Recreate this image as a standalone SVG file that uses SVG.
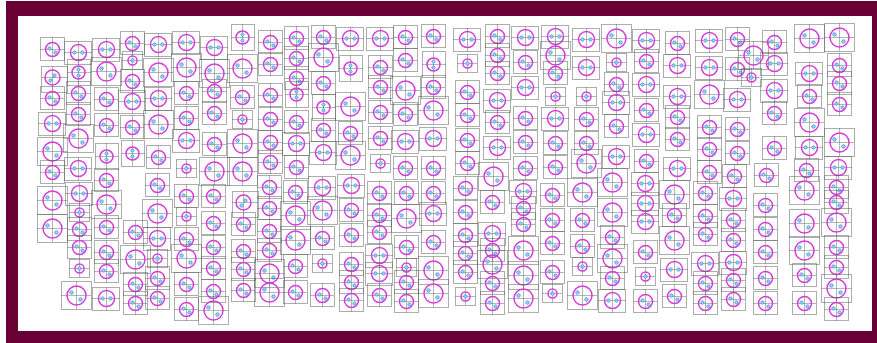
<svg xmlns="http://www.w3.org/2000/svg" xmlns:xlink="http://www.w3.org/1999/xlink" width="877" height="343" viewBox="0 0 877 343">
<style>
.bx{fill:none;stroke:#5a5a5a;stroke-width:1;stroke-dasharray:1 1}
.ch{fill:none;stroke:#6a6a6a;stroke-width:1;stroke-dasharray:1 1}
.ci{fill:none;stroke:#d43ed8;stroke-width:1.5}
.dt{fill:#8fd6f4;stroke:#4f86e2;stroke-width:0.7}
</style>
<defs>
<g id="a"><rect class="bx" x="-11.5" y="-11.5" width="24" height="23"/><path class="ch" d="M-11.5 0.5H12.5M0.5 -11.5V11.5"/><circle class="ci" cx="0.5" cy="0.5" r="7"/><circle class="dt" cx="-2.5" cy="-0.5" r="1.7"/><circle class="dt" cx="3.5" cy="3.5" r="1.7"/></g>
<g id="b"><rect class="bx" x="-13.5" y="-10.5" width="27" height="23"/><path class="ch" d="M-13.5 0.5H13.5M0.5 -10.5V12.5"/><circle class="ci" cx="0.5" cy="0.5" r="8"/><circle class="dt" cx="-3.5" cy="0.5" r="1.7"/><circle class="dt" cx="4.5" cy="0.5" r="1.7"/></g>
<g id="c"><rect class="bx" x="-14.5" y="-13.5" width="30" height="28"/><path class="ch" d="M-14.5 0.5H15.5M0.5 -13.5V14.5"/><circle class="ci" cx="0.5" cy="0.5" r="9.5"/><circle class="dt" cx="-4.5" cy="-2.5" r="1.8"/><circle class="dt" cx="4.5" cy="4.5" r="1.8"/></g>
<g id="d"><rect class="bx" x="-9.5" y="-8.5" width="20" height="18"/><path class="ch" d="M-9.5 0.5H10.5M0.5 -8.5V9.5"/><circle class="ci" cx="0.5" cy="0.5" r="4.5"/><circle class="dt" cx="0.5" cy="0.5" r="1.8"/></g>
<g id="e"><rect class="bx" x="-10.5" y="-12.5" width="23" height="26"/><path class="ch" d="M-10.5 0.5H12.5M0.5 -12.5V13.5"/><circle class="ci" cx="0.5" cy="0.5" r="6.5"/><circle class="dt" cx="0.5" cy="-2.5" r="1.6"/><circle class="dt" cx="0.5" cy="3.5" r="1.6"/></g>
<g id="g"><rect class="bx" x="-10.5" y="-10.5" width="26" height="26"/><path class="ch" d="M-10.5 0.5H15.5M0.5 -10.5V15.5"/><circle class="ci" cx="0.5" cy="0.5" r="7.5"/><circle class="dt" cx="2.5" cy="-1.5" r="1.7"/><circle class="dt" cx="-1.5" cy="3.5" r="1.7"/></g>
</defs>
<rect width="877" height="343" fill="#ffffff"/>
<rect x="6" y="1" width="871" height="342" fill="#690036"/>
<rect x="18" y="16" width="854" height="315" fill="#ffffff"/>
<g id="cells">
<use href="#a" x="52" y="49"/><use href="#g" x="52" y="77"/><use href="#a" x="52" y="98"/><use href="#b" x="52" y="123"/><use href="#c" x="52" y="151"/><use href="#a" x="52" y="172"/><use href="#c" x="52" y="200"/><use href="#c" x="52" y="228"/>
<use href="#b" x="78" y="52"/><use href="#e" x="78" y="72"/><use href="#a" x="78" y="93"/><use href="#a" x="78" y="114"/><use href="#c" x="78" y="138"/><use href="#b" x="78" y="168"/><use href="#b" x="79" y="193"/><use href="#d" x="79" y="212"/><use href="#a" x="79" y="229"/><use href="#a" x="79" y="247"/><use href="#d" x="79" y="268"/><use href="#c" x="76" y="295"/>
<use href="#b" x="106" y="49"/><use href="#c" x="106" y="71"/><use href="#a" x="106" y="99"/><use href="#a" x="106" y="125"/><use href="#e" x="106" y="156"/><use href="#a" x="106" y="180"/><use href="#c" x="106" y="204"/><use href="#a" x="106" y="227"/><use href="#a" x="106" y="252"/><use href="#a" x="106" y="271"/><use href="#b" x="106" y="298"/>
<use href="#a" x="132" y="43"/><use href="#d" x="132" y="60"/><use href="#a" x="132" y="81"/><use href="#b" x="132" y="101"/><use href="#a" x="132" y="127"/><use href="#e" x="132" y="153"/><use href="#a" x="135" y="232"/><use href="#c" x="135" y="259"/><use href="#a" x="135" y="284"/><use href="#a" x="135" y="303"/>
<use href="#b" x="158" y="44"/><use href="#c" x="158" y="72"/><use href="#b" x="158" y="98"/><use href="#c" x="158" y="124"/><use href="#a" x="158" y="157"/><use href="#a" x="157" y="185"/><use href="#c" x="157" y="213"/><use href="#b" x="157" y="238"/><use href="#d" x="157" y="258"/><use href="#a" x="157" y="278"/><use href="#a" x="157" y="298"/>
<use href="#b" x="186" y="42"/><use href="#c" x="186" y="67"/><use href="#a" x="186" y="93"/><use href="#a" x="186" y="118"/><use href="#b" x="186" y="140"/><use href="#d" x="186" y="168"/><use href="#a" x="186" y="196"/><use href="#d" x="186" y="216"/><use href="#a" x="186" y="239"/><use href="#c" x="186" y="258"/><use href="#a" x="186" y="284"/><use href="#a" x="186" y="309"/>
<use href="#b" x="214" y="47"/><use href="#c" x="214" y="73"/><use href="#a" x="214" y="91"/><use href="#a" x="214" y="113"/><use href="#a" x="214" y="144"/><use href="#c" x="214" y="171"/><use href="#a" x="213" y="196"/><use href="#a" x="213" y="223"/><use href="#a" x="213" y="247"/><use href="#a" x="213" y="268"/><use href="#a" x="213" y="291"/><use href="#c" x="213" y="310"/>
<use href="#e" x="242" y="37"/><use href="#c" x="242" y="68"/><use href="#a" x="242" y="97"/><use href="#d" x="242" y="119"/><use href="#c" x="242" y="143"/><use href="#c" x="242" y="171"/><use href="#g" x="243" y="202"/><use href="#a" x="243" y="224"/><use href="#a" x="243" y="251"/><use href="#a" x="243" y="269"/><use href="#a" x="243" y="290"/>
<use href="#a" x="270" y="42"/><use href="#a" x="270" y="64"/><use href="#a" x="270" y="95"/><use href="#a" x="270" y="119"/><use href="#a" x="270" y="142"/><use href="#a" x="270" y="162"/><use href="#a" x="269" y="187"/><use href="#a" x="269" y="208"/><use href="#a" x="269" y="231"/><use href="#a" x="269" y="250"/><use href="#c" x="269" y="273"/><use href="#c" x="269" y="292"/>
<use href="#a" x="296" y="38"/><use href="#a" x="296" y="58"/><use href="#a" x="296" y="78"/><use href="#e" x="296" y="94"/><use href="#a" x="296" y="122"/><use href="#b" x="296" y="143"/><use href="#a" x="296" y="167"/><use href="#a" x="295" y="192"/><use href="#c" x="295" y="215"/><use href="#c" x="295" y="240"/><use href="#a" x="295" y="266"/><use href="#a" x="295" y="292"/>
<use href="#a" x="323" y="37"/><use href="#c" x="323" y="57"/><use href="#a" x="323" y="83"/><use href="#e" x="323" y="107"/><use href="#a" x="323" y="130"/><use href="#b" x="323" y="152"/><use href="#b" x="322" y="187"/><use href="#c" x="322" y="210"/><use href="#a" x="322" y="238"/><use href="#d" x="322" y="263"/><use href="#a" x="322" y="295"/>
<use href="#b" x="350" y="38"/><use href="#e" x="350" y="68"/><use href="#c" x="350" y="106"/><use href="#a" x="350" y="133"/><use href="#c" x="350" y="155"/><use href="#b" x="351" y="185"/><use href="#a" x="351" y="210"/><use href="#a" x="351" y="235"/><use href="#a" x="351" y="264"/><use href="#a" x="351" y="282"/><use href="#a" x="351" y="300"/>
<use href="#b" x="380" y="38"/><use href="#a" x="380" y="67"/><use href="#a" x="380" y="87"/><use href="#a" x="380" y="112"/><use href="#a" x="380" y="138"/><use href="#d" x="380" y="163"/><use href="#a" x="379" y="193"/><use href="#a" x="379" y="215"/><use href="#a" x="379" y="232"/><use href="#b" x="379" y="255"/><use href="#b" x="379" y="273"/><use href="#a" x="379" y="295"/>
<use href="#a" x="405" y="37"/><use href="#a" x="405" y="60"/><use href="#c" x="405" y="90"/><use href="#a" x="405" y="114"/><use href="#b" x="405" y="141"/><use href="#a" x="405" y="168"/><use href="#a" x="406" y="193"/><use href="#c" x="406" y="218"/><use href="#a" x="406" y="247"/><use href="#d" x="406" y="267"/><use href="#a" x="406" y="282"/><use href="#a" x="406" y="301"/>
<use href="#a" x="433" y="36"/><use href="#e" x="433" y="64"/><use href="#a" x="433" y="87"/><use href="#c" x="433" y="110"/><use href="#b" x="433" y="138"/><use href="#a" x="433" y="168"/><use href="#a" x="433" y="193"/><use href="#b" x="433" y="213"/><use href="#a" x="433" y="242"/><use href="#c" x="433" y="270"/><use href="#c" x="433" y="293"/>
<use href="#b" x="467" y="39"/><use href="#d" x="467" y="63"/><use href="#a" x="467" y="92"/><use href="#a" x="467" y="115"/><use href="#a" x="467" y="140"/><use href="#a" x="467" y="163"/><use href="#a" x="465" y="188"/><use href="#a" x="465" y="212"/><use href="#a" x="465" y="235"/><use href="#a" x="465" y="253"/><use href="#a" x="465" y="272"/><use href="#d" x="465" y="296"/>
<use href="#a" x="497" y="36"/><use href="#a" x="497" y="55"/><use href="#a" x="497" y="73"/><use href="#b" x="497" y="100"/><use href="#a" x="497" y="122"/><use href="#b" x="497" y="147"/><use href="#c" x="493" y="176"/><use href="#a" x="492" y="202"/><use href="#b" x="492" y="233"/><use href="#a" x="492" y="250"/><use href="#c" x="492" y="264"/><use href="#a" x="492" y="283"/><use href="#a" x="492" y="303"/>
<use href="#b" x="525" y="37"/><use href="#a" x="525" y="62"/><use href="#b" x="525" y="87"/><use href="#a" x="525" y="118"/><use href="#a" x="525" y="142"/><use href="#a" x="525" y="168"/><use href="#b" x="523" y="191"/><use href="#a" x="523" y="208"/><use href="#a" x="523" y="224"/><use href="#c" x="523" y="250"/><use href="#c" x="523" y="275"/><use href="#c" x="523" y="298"/>
<use href="#b" x="555" y="36"/><use href="#c" x="555" y="55"/><use href="#a" x="555" y="73"/><use href="#d" x="555" y="96"/><use href="#b" x="555" y="118"/><use href="#a" x="555" y="143"/><use href="#a" x="555" y="167"/><use href="#a" x="552" y="195"/><use href="#a" x="552" y="220"/><use href="#a" x="552" y="243"/><use href="#a" x="552" y="272"/><use href="#d" x="552" y="293"/>
<use href="#b" x="586" y="39"/><use href="#b" x="586" y="67"/><use href="#d" x="586" y="96"/><use href="#a" x="586" y="119"/><use href="#a" x="586" y="143"/><use href="#c" x="586" y="163"/><use href="#c" x="582" y="192"/><use href="#a" x="582" y="220"/><use href="#a" x="582" y="246"/><use href="#d" x="582" y="266"/><use href="#c" x="582" y="295"/>
<use href="#c" x="616" y="38"/><use href="#d" x="616" y="62"/><use href="#a" x="616" y="84"/><use href="#b" x="616" y="102"/><use href="#a" x="616" y="126"/><use href="#b" x="616" y="156"/><use href="#c" x="612" y="182"/><use href="#c" x="612" y="212"/><use href="#a" x="612" y="237"/><use href="#c" x="612" y="258"/><use href="#a" x="612" y="278"/><use href="#b" x="612" y="300"/>
<use href="#b" x="646" y="40"/><use href="#a" x="646" y="61"/><use href="#b" x="646" y="84"/><use href="#a" x="646" y="110"/><use href="#b" x="646" y="134"/><use href="#a" x="646" y="161"/><use href="#b" x="645" y="183"/><use href="#b" x="645" y="203"/><use href="#b" x="645" y="221"/><use href="#a" x="645" y="252"/><use href="#d" x="645" y="276"/><use href="#a" x="645" y="301"/>
<use href="#a" x="677" y="43"/><use href="#b" x="677" y="65"/><use href="#b" x="677" y="96"/><use href="#a" x="677" y="117"/><use href="#a" x="677" y="139"/><use href="#b" x="677" y="168"/><use href="#c" x="674" y="194"/><use href="#a" x="674" y="215"/><use href="#c" x="674" y="240"/><use href="#b" x="674" y="269"/><use href="#a" x="674" y="296"/>
<use href="#b" x="709" y="40"/><use href="#b" x="709" y="67"/><use href="#c" x="709" y="94"/><use href="#a" x="709" y="127"/><use href="#a" x="709" y="149"/><use href="#a" x="709" y="172"/><use href="#a" x="705" y="193"/><use href="#a" x="705" y="216"/><use href="#a" x="705" y="234"/><use href="#b" x="705" y="263"/><use href="#a" x="705" y="283"/><use href="#a" x="705" y="303"/>
<use href="#a" x="737" y="39"/><use href="#a" x="737" y="69"/><use href="#b" x="737" y="99"/><use href="#a" x="737" y="129"/><use href="#a" x="737" y="153"/><use href="#a" x="734" y="176"/><use href="#b" x="733" y="198"/><use href="#a" x="733" y="220"/><use href="#a" x="733" y="240"/><use href="#b" x="733" y="262"/><use href="#a" x="733" y="280"/><use href="#a" x="733" y="299"/>
<use href="#c" x="753" y="55"/><use href="#d" x="751" y="77"/>
<use href="#a" x="774" y="42"/><use href="#b" x="774" y="63"/><use href="#b" x="774" y="90"/><use href="#a" x="774" y="113"/><use href="#a" x="774" y="148"/><use href="#a" x="766" y="175"/><use href="#a" x="765" y="205"/><use href="#a" x="765" y="229"/><use href="#a" x="765" y="252"/><use href="#a" x="765" y="278"/><use href="#a" x="765" y="303"/>
<use href="#c" x="809" y="38"/><use href="#b" x="809" y="73"/><use href="#a" x="809" y="96"/><use href="#c" x="809" y="122"/><use href="#b" x="809" y="147"/><use href="#a" x="806" y="170"/><use href="#c" x="804" y="190"/><use href="#c" x="804" y="223"/><use href="#c" x="804" y="250"/><use href="#a" x="804" y="275"/><use href="#a" x="804" y="303"/>
<use href="#c" x="839" y="37"/><use href="#a" x="839" y="65"/><use href="#a" x="839" y="83"/><use href="#a" x="839" y="104"/><use href="#c" x="839" y="142"/><use href="#b" x="838" y="167"/><use href="#a" x="836" y="187"/><use href="#a" x="836" y="202"/><use href="#c" x="836" y="222"/><use href="#a" x="836" y="247"/><use href="#a" x="836" y="267"/><use href="#c" x="836" y="288"/><use href="#a" x="836" y="309"/>
</g>
</svg>
